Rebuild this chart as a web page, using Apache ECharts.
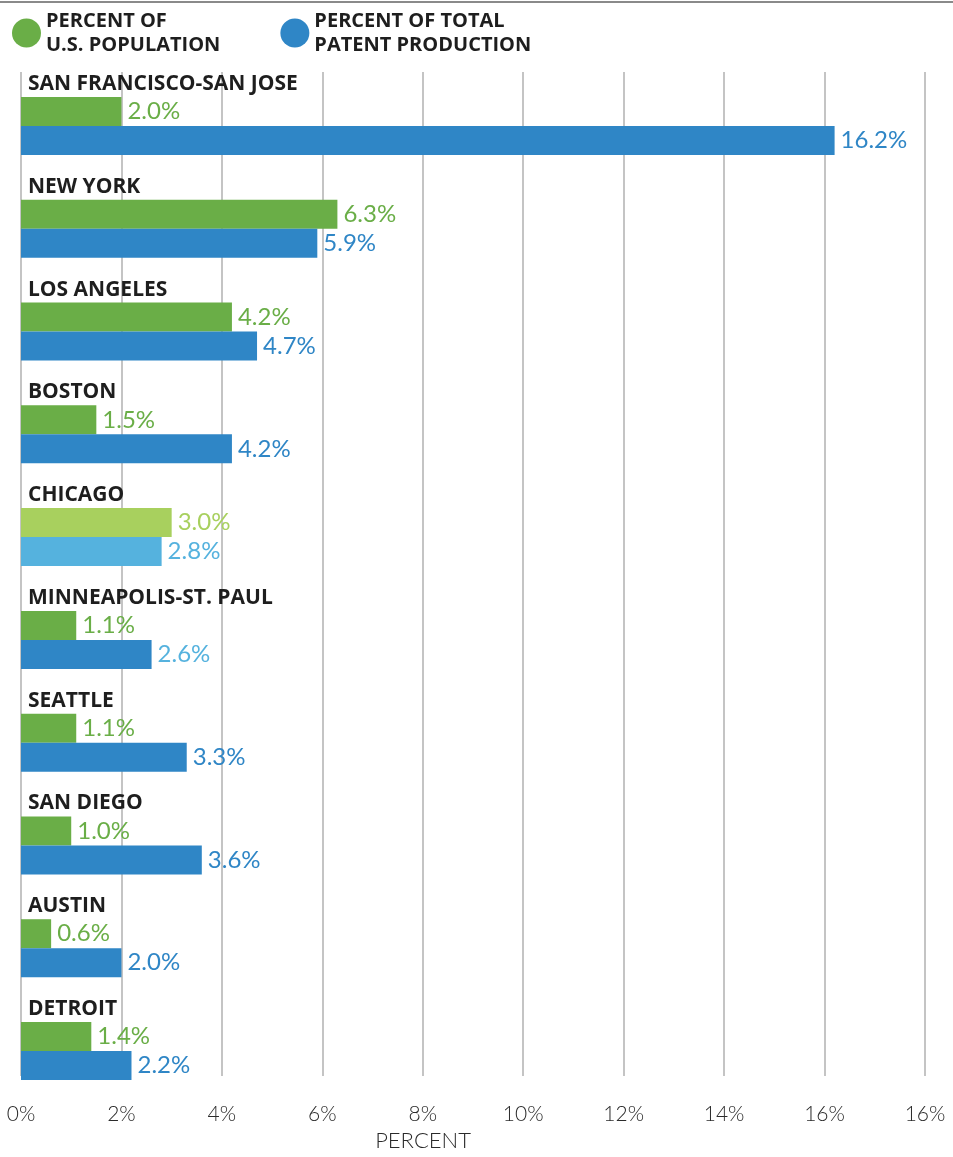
<!DOCTYPE html>
<html>
<head>
<meta charset="utf-8">
<script src="https://cdn.jsdelivr.net/npm/echarts@6/dist/echarts.min.js"></script>
<style>
  html, body { margin: 0; padding: 0; background: #fff; }
  #chart { width: 953px; height: 1157px; }
</style>
</head>
<body>
<div id="chart"></div>
<script>
// Metro areas, top to bottom
const metros = [
  'SAN FRANCISCO-SAN JOSE', 'NEW YORK', 'LOS ANGELES', 'BOSTON', 'CHICAGO',
  'MINNEAPOLIS-ST. PAUL', 'SEATTLE', 'SAN DIEGO', 'AUSTIN', 'DETROIT'
];
// Share of U.S. population (%)
const populationShare = [2.0, 6.3, 4.2, 1.5, 3.0, 1.1, 1.1, 1.0, 0.6, 1.4];
// Share of total patent production (%)
const patentShare = [16.2, 5.9, 4.7, 4.2, 2.8, 2.6, 3.3, 3.6, 2.0, 2.2];
// Horizontal axis tick labels, every 2 points
const tickLabels = ['0%', '2%', '4%', '6%', '8%', '10%', '12%', '14%', '16%', '16%'];

const GREEN = '#6aae47';
const BLUE = '#2f86c6';
const GREEN_LIGHT = '#a8d05e';
const BLUE_LIGHT = '#55b2de';
const highlightMetro = 'CHICAGO';
const lightLabelMetro = 'MINNEAPOLIS-ST. PAUL';

const valueFont = 'Lato';
const labelFont = '"Open Sans"';

function buildData(values, light, isPatent) {
  return values.map((v, i) => {
    const item = { value: v };
    if (metros[i] === highlightMetro) {
      item.itemStyle = { color: light };
      item.label = { color: light };
    } else if (isPatent && metros[i] === lightLabelMetro) {
      item.label = { color: light };
    }
    return item;
  });
}

// Bar area: ten bands of equal height
const barTop = 74.6;
const barBottom = 54.6;
// Metro names sit this far above the centre of their bar pair
const nameLift = 42;

const chart = echarts.init(document.getElementById('chart'), null, { renderer: 'canvas' });

const valueLabel = (color) => ({
  show: true,
  position: 'right',
  distance: 6,
  fontFamily: valueFont,
  fontSize: 24,
  color: color,
  formatter: (p) => p.value.toFixed(1) + '%'
});

const option = {
  animation: false,
  backgroundColor: '#fff',
  graphic: [{
    type: 'line',
    shape: { x1: 0, y1: 2, x2: 953, y2: 2 },
    style: { stroke: '#8a8a8a', lineWidth: 2 }
  }],
  legend: {
    left: 7,
    top: 4,
    itemWidth: 29,
    itemHeight: 29,
    itemGap: 60,
    icon: 'circle',
    selectedMode: false,
    textStyle: {
      fontFamily: labelFont,
      fontWeight: 'bold',
      fontSize: 20,
      lineHeight: 24,
      color: '#1e1e1e'
    },
    data: ['PERCENT OF\nU.S. POPULATION', 'PERCENT OF TOTAL\nPATENT PRODUCTION']
  },
  grid: [
    // grid lines and ticks
    { left: 21, right: 28, top: 72, bottom: 69 },
    // bars
    { left: 21, right: 28, top: barTop, bottom: barBottom },
    // metro names
    { left: 21, right: 28, top: barTop - nameLift, bottom: barBottom + nameLift }
  ],
  xAxis: [
    {
      gridIndex: 0,
      type: 'value',
      min: 0,
      max: 18,
      interval: 2,
      axisLine: { show: false },
      axisTick: { show: false },
      splitLine: { show: true, lineStyle: { color: '#c4c4c4', width: 2 } },
      axisLabel: {
        margin: 28,
        fontFamily: valueFont,
        fontSize: 21,
        fontWeight: 300,
        color: '#2a2a2a',
        formatter: (v) => tickLabels[Math.round(v / 2)]
      },
      name: 'PERCENT',
      nameLocation: 'middle',
      nameGap: 52,
      nameTextStyle: {
        fontFamily: valueFont,
        fontSize: 22,
        fontWeight: 300,
        color: '#2a2a2a',
        padding: [0, 100, 0, 0]
      }
    },
    { gridIndex: 1, type: 'value', min: 0, max: 18, show: false },
    { gridIndex: 2, type: 'value', min: 0, max: 18, show: false }
  ],
  yAxis: [
    { gridIndex: 0, type: 'value', min: 0, max: 1, show: false },
    {
      gridIndex: 1,
      type: 'category',
      inverse: true,
      data: metros,
      show: false
    },
    {
      gridIndex: 2,
      type: 'category',
      inverse: true,
      data: metros,
      z: 10,
      axisLine: { show: false },
      axisTick: { show: false },
      splitLine: { show: false },
      axisLabel: {
        inside: true,
        margin: 7,
        fontFamily: labelFont,
        fontWeight: 'bold',
        fontSize: 21,
        color: '#1e1e1e'
      }
    }
  ],
  series: [
    {
      name: 'PERCENT OF\nU.S. POPULATION',
      type: 'bar',
      xAxisIndex: 1,
      yAxisIndex: 1,
      barWidth: 29,
      barGap: '0%',
      itemStyle: { color: GREEN },
      label: valueLabel(GREEN),
      data: buildData(populationShare, GREEN_LIGHT, false)
    },
    {
      name: 'PERCENT OF TOTAL\nPATENT PRODUCTION',
      type: 'bar',
      xAxisIndex: 1,
      yAxisIndex: 1,
      barWidth: 29,
      barGap: '0%',
      itemStyle: { color: BLUE },
      label: valueLabel(BLUE),
      data: buildData(patentShare, BLUE_LIGHT, true)
    }
  ]
};

chart.setOption(option);
</script>
</body>
</html>
